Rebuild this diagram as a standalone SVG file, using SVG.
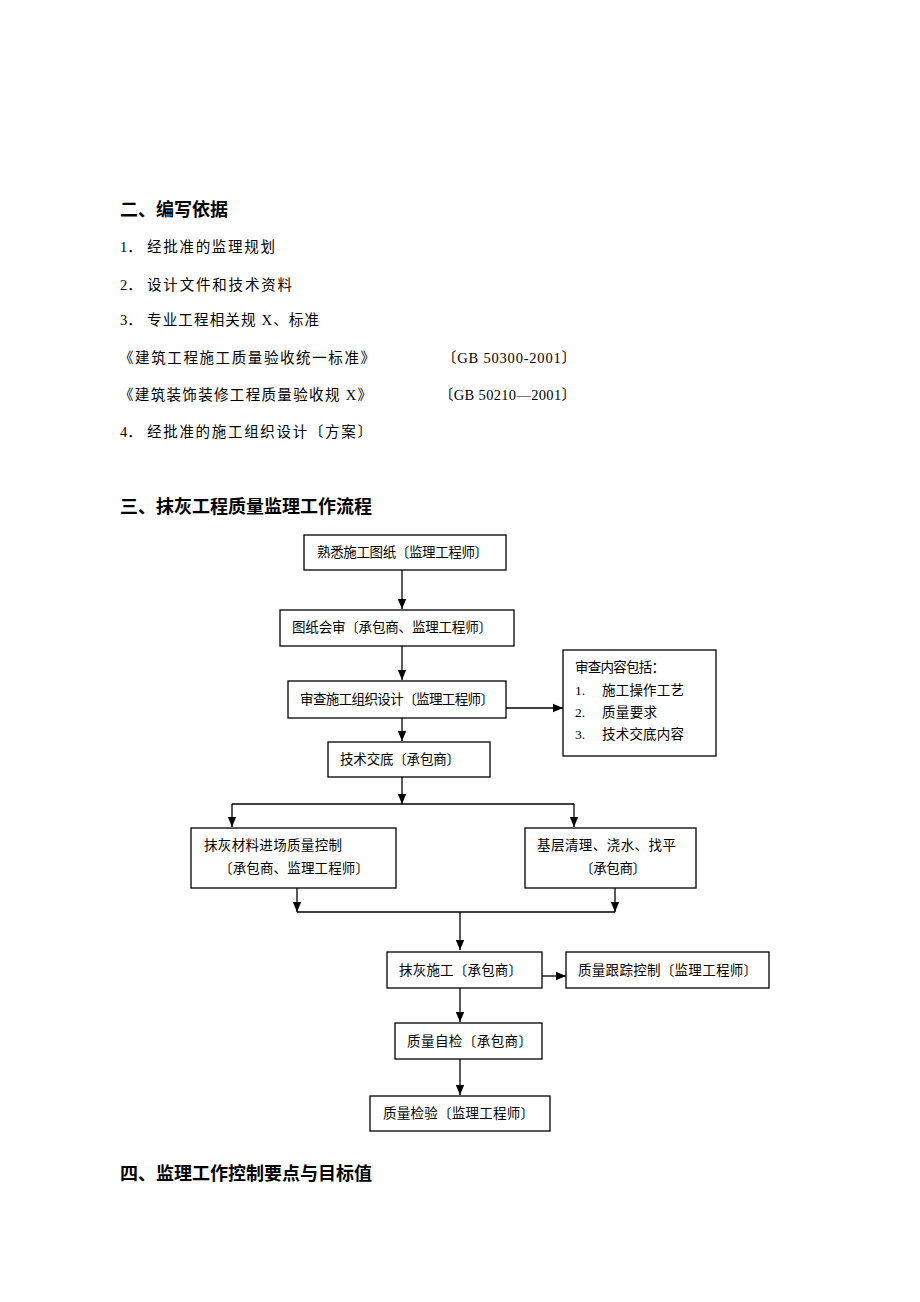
<svg xmlns="http://www.w3.org/2000/svg" width="920" height="1302" viewBox="0 0 920 1302">
<style>
.h{font-family:"Noto Sans CJK SC","Noto Sans",sans-serif;font-size:18px;font-weight:bold;fill:#000}
.b{font-family:"Liberation Serif","Noto Sans CJK SC",serif;font-size:14.5px;fill:#000}
.t{font-family:"Liberation Serif","Noto Sans CJK SC",serif;font-size:13.5px;fill:#000}
.box{fill:#fff;stroke:#000;stroke-width:1.3}
.ln{fill:none;stroke:#000;stroke-width:1.3}
</style>
<defs>
<marker id="ah" markerUnits="userSpaceOnUse" markerWidth="10" markerHeight="10" viewBox="0 0 10 10" refX="10" refY="5" orient="auto">
<path d="M0,0.8 L10,5 L0,9.2 Z" fill="#000"/>
</marker>
</defs>
<rect width="920" height="1302" fill="#fff"/>

<g id="section2">
<text class="h" x="120" y="208" dominant-baseline="central">二、编写依据</text>
<text class="b" y="247" dominant-baseline="central"><tspan x="120">1．</tspan><tspan x="147" textLength="128">经批准的监理规划</tspan></text>
<text class="b" y="285" dominant-baseline="central"><tspan x="120">2．</tspan><tspan x="147" textLength="145">设计文件和技术资料</tspan></text>
<text class="b" y="320" dominant-baseline="central"><tspan x="120">3．</tspan><tspan x="147" textLength="172">专业工程相关规 X、标准</tspan></text>
<text class="b" x="119" y="358" dominant-baseline="central" textLength="256">《建筑工程施工质量验收统一标准》</text>
<text class="b" x="442" y="358" dominant-baseline="central" textLength="134">〔GB 50300-2001〕</text>
<text class="b" x="119" y="395" dominant-baseline="central" textLength="253">《建筑装饰装修工程质量验收规 X》</text>
<text class="b" x="439" y="395" dominant-baseline="central" textLength="137">〔GB 50210—2001〕</text>
<text class="b" y="432" dominant-baseline="central"><tspan x="120">4．</tspan><tspan x="147" textLength="225">经批准的施工组织设计〔方案〕</tspan></text>
</g>

<g id="section3-title">
<text class="h" x="120" y="505" dominant-baseline="central">三、抹灰工程质量监理工作流程</text>
</g>

<g id="connectors">
<line class="ln" x1="402" y1="570" x2="402" y2="609" marker-end="url(#ah)"/>
<line class="ln" x1="402" y1="646" x2="402" y2="680" marker-end="url(#ah)"/>
<line class="ln" x1="506" y1="708" x2="563" y2="708" marker-end="url(#ah)"/>
<line class="ln" x1="402" y1="718" x2="402" y2="741" marker-end="url(#ah)"/>
<line class="ln" x1="402" y1="777" x2="402" y2="804" marker-end="url(#ah)"/>
<polyline class="ln" points="232,804 574,804"/>
<line class="ln" x1="232" y1="804" x2="232" y2="827" marker-end="url(#ah)"/>
<line class="ln" x1="574" y1="804" x2="574" y2="827" marker-end="url(#ah)"/>
<line class="ln" x1="297" y1="888" x2="297" y2="912" marker-end="url(#ah)"/>
<line class="ln" x1="615" y1="888" x2="615" y2="912" marker-end="url(#ah)"/>
<polyline class="ln" points="297,912 615,912"/>
<line class="ln" x1="460" y1="912" x2="460" y2="950" marker-end="url(#ah)"/>
<line class="ln" x1="542" y1="976" x2="566" y2="976" marker-end="url(#ah)"/>
<line class="ln" x1="460" y1="988" x2="460" y2="1022" marker-end="url(#ah)"/>
<line class="ln" x1="460" y1="1059" x2="460" y2="1095" marker-end="url(#ah)"/>
</g>

<g id="n1"><rect class="box" x="304" y="535" width="202" height="35"/>
<text class="t" x="317" y="552" dominant-baseline="central" textLength="171">熟悉施工图纸〔监理工程师〕</text></g>
<g id="n2"><rect class="box" x="280" y="610" width="234" height="36"/>
<text class="t" x="292" y="627" dominant-baseline="central" textLength="200">图纸会审〔承包商、监理工程师〕</text></g>
<g id="n3"><rect class="box" x="288" y="681" width="218" height="37"/>
<text class="t" x="300" y="699" dominant-baseline="central" textLength="194">审查施工组织设计〔监理工程师〕</text></g>
<g id="n3note"><rect class="box" x="563" y="650" width="153" height="106"/>
<text class="t" x="575" y="667" dominant-baseline="central" textLength="90">审查内容包括：</text>
<text class="t" y="690" dominant-baseline="central"><tspan x="575">1.</tspan><tspan x="602" textLength="82">施工操作工艺</tspan></text>
<text class="t" y="712" dominant-baseline="central"><tspan x="575">2.</tspan><tspan x="602" textLength="55">质量要求</tspan></text>
<text class="t" y="734" dominant-baseline="central"><tspan x="575">3.</tspan><tspan x="602" textLength="82">技术交底内容</tspan></text></g>
<g id="n4"><rect class="box" x="328" y="742" width="162" height="35"/>
<text class="t" x="340" y="759" dominant-baseline="central" textLength="120">技术交底〔承包商〕</text></g>
<g id="n5"><rect class="box" x="191" y="828" width="205" height="60"/>
<text class="t" x="204" y="845" dominant-baseline="central" textLength="138">抹灰材料进场质量控制</text>
<text class="t" x="219" y="868" dominant-baseline="central" textLength="150">〔承包商、监理工程师〕</text></g>
<g id="n6"><rect class="box" x="525" y="828" width="171" height="60"/>
<text class="t" x="537" y="845" dominant-baseline="central" textLength="139">基层清理、浇水、找平</text>
<text class="t" x="580" y="868" dominant-baseline="central" textLength="66">〔承包商〕</text></g>
<g id="n7"><rect class="box" x="387" y="952" width="155" height="36"/>
<text class="t" x="399" y="970" dominant-baseline="central" textLength="123">抹灰施工〔承包商〕</text></g>
<g id="n8"><rect class="box" x="566" y="952" width="203" height="36"/>
<text class="t" x="578" y="970" dominant-baseline="central" textLength="179">质量跟踪控制〔监理工程师〕</text></g>
<g id="n9"><rect class="box" x="395" y="1023" width="147" height="36"/>
<text class="t" x="407" y="1041" dominant-baseline="central" textLength="125">质量自检〔承包商〕</text></g>
<g id="n10"><rect class="box" x="370" y="1096" width="180" height="35"/>
<text class="t" x="383" y="1113" dominant-baseline="central" textLength="151">质量检验〔监理工程师〕</text></g>

<g id="section4-title">
<text class="h" x="120" y="1172" dominant-baseline="central">四、监理工作控制要点与目标值</text>
</g>
</svg>
